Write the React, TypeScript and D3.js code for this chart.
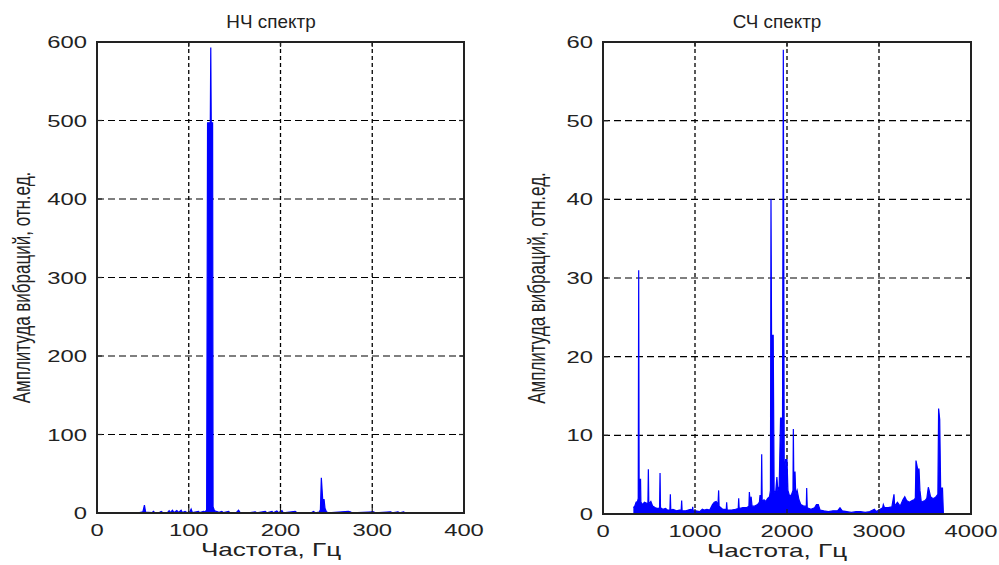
import * as d3 from "d3";

// НЧ спектр (0-400 Гц)
const lfFreq = [0, 45, 50, 51.7, 53, 56, 60, 61.5, 63, 68, 70, 72, 77, 78.6, 80, 82.2, 84, 87, 89, 91.7, 93, 96, 98, 101, 102.6, 104, 110.6, 112, 116, 118, 119.5, 120.5, 123.5, 124, 124.5, 126, 126.5, 128, 130, 133, 136, 138, 143.4, 145, 152, 154.3, 156, 165, 172.5, 174, 183.4, 185, 190.7, 192, 196, 198, 201.6, 203, 216, 218, 234, 236, 238, 242, 243.5, 244.5, 246, 247.5, 248.5, 250, 252, 274, 276, 278, 301.6, 303, 320, 322, 328, 330, 334, 336, 340];
const lfAmp = [0.3, 0.3, 1.5, 10, 1, 0.8, 0.5, 2, 0.3, 0.5, 2, 0.3, 0.8, 3, 0.5, 3.5, 0.5, 3, 0.6, 3.5, 0.6, 2, 0.5, 1, 5, 0.4, 2, 0.4, 2, 1.5, 4, 497, 497, 593, 497, 497, 8, 3, 2, 1, 2, 0.4, 2, 0.4, 0.6, 3.5, 0.4, 0.3, 1.5, 0.3, 2, 0.3, 2, 0.3, 2.5, 0.3, 3, 0.3, 2, 0.3, 0.5, 2, 0.3, 1, 4, 45, 17, 17, 6, 1.5, 0.3, 2, 1.5, 0.3, 1.5, 0.3, 1.5, 0.3, 1.5, 0.3, 1.5, 0.3, 0.3];

// СЧ спектр (0-4000 Гц)
const mfFreq = [330, 345, 360, 375, 383, 388, 393, 400, 408, 412, 430, 450, 470, 488, 493, 498, 520, 540, 570, 600, 615, 620, 625, 650, 680, 700, 727, 732, 737, 760, 800, 830, 850, 855, 860, 900, 950, 970, 975, 980, 1010, 1050, 1080, 1100, 1130, 1160, 1190, 1210, 1230, 1250, 1257, 1262, 1300, 1340, 1344, 1350, 1400, 1440, 1470, 1475, 1480, 1520, 1560, 1586, 1591, 1600, 1610, 1620, 1650, 1680, 1700, 1707, 1720, 1725, 1730, 1750, 1770, 1790, 1810, 1820, 1826, 1832, 1850, 1860, 1875, 1890, 1900, 1915, 1930, 1940, 1950, 1960, 1970, 1985, 2000, 2010, 2030, 2050, 2065, 2069, 2075, 2087, 2095, 2110, 2130, 2150, 2180, 2210, 2214, 2220, 2260, 2300, 2320, 2340, 2360, 2400, 2450, 2500, 2550, 2576, 2600, 2650, 2700, 2750, 2800, 2850, 2900, 2950, 2970, 3000, 3040, 3047, 3060, 3100, 3140, 3163, 3170, 3200, 3230, 3260, 3280, 3300, 3330, 3360, 3380, 3395, 3402, 3420, 3435, 3445, 3460, 3480, 3500, 3520, 3536, 3545, 3560, 3580, 3600, 3620, 3640, 3648, 3660, 3670, 3690, 3700];
const mfAmp = [0.8, 1, 1.5, 1.6, 2, 31, 2, 4.4, 4.4, 1.5, 1.2, 1.5, 1.4, 1.3, 5.7, 1.3, 1.6, 1, 0.8, 0.7, 0.8, 5.2, 0.8, 0.6, 0.7, 0.5, 0.5, 2.5, 0.5, 0.6, 0.4, 0.5, 0.5, 1.7, 0.4, 0.4, 0.6, 0.5, 0.9, 0.4, 0.4, 0.3, 0.6, 0.5, 0.6, 0.5, 1.2, 1.5, 1.6, 1.2, 3, 1, 0.6, 0.6, 1.5, 0.5, 0.5, 0.6, 0.7, 2, 0.7, 0.8, 0.8, 1, 2.8, 1.2, 2.2, 1, 1, 1.2, 1.5, 2.4, 1.6, 7.6, 1.6, 1.8, 1.6, 2, 2.2, 3, 40, 22.7, 22.7, 3, 2.5, 4.7, 3, 3.5, 12.2, 12.2, 5, 59, 5, 6.9, 6.9, 3, 2.2, 2.5, 3, 10.8, 3, 5.4, 2.5, 3, 1.8, 1.2, 1, 1, 3.3, 0.8, 0.6, 0.8, 1.2, 1.2, 0.5, 0.4, 0.3, 0.4, 0.4, 0.8, 0.4, 0.3, 0.2, 0.3, 0.3, 0.2, 0.3, 0.6, 0.3, 0.5, 0.8, 1.2, 0.8, 0.8, 0.9, 2.5, 1, 1.5, 1, 1.8, 2.2, 1.7, 1.5, 1.7, 1.8, 2, 6.8, 5.7, 5.7, 3, 1.5, 1.6, 1.7, 2, 3.4, 3, 2.2, 2, 2, 2.2, 2.5, 13.4, 12, 3.3, 3.3, 0];

const lfXTicks = [0, 100, 200, 300, 400];
const lfYTicks = [0, 100, 200, 300, 400, 500, 600];
const mfXTicks = [0, 1000, 2000, 3000, 4000];
const mfYTicks = [0, 10, 20, 30, 40, 50, 60];

const FONT = "'Liberation Sans', Arial, sans-serif";
const SX = 1.4;
const INK = "#222";

function Panel(props) {
  const { left, right, top, bottom, freq, amp, xTicks, yTicks, title, titleX, ylabelX } = props;
  const x = d3.scaleLinear().domain([xTicks[0], xTicks[xTicks.length - 1]]).range([left, right]);
  const y = d3.scaleLinear().domain([yTicks[0], yTicks[yTicks.length - 1]]).range([bottom, top]);
  const idx = d3.range(freq.length);

  const area = d3.area<number>()
    .x(i => x(freq[i]))
    .y0(y(0))
    .y1(i => y(amp[i]));
  const line = d3.line<number>()
    .x(i => x(freq[i]))
    .y(i => y(amp[i]));

  const innerX = xTicks.slice(1, -1);
  const innerY = yTicks.slice(1, -1);
  const labelY = (top + bottom) / 2 + 10;

  return (
    <g>
      {/* grid */}
      {innerX.map(t => (
        <line key={"gx" + t} x1={x(t)} x2={x(t)} y1={top} y2={bottom}
          stroke="#000" strokeWidth={1.3} strokeDasharray="4,3" />
      ))}
      {innerY.map(t => (
        <line key={"gy" + t} x1={left} x2={right} y1={y(t)} y2={y(t)}
          stroke="#000" strokeWidth={1.2} strokeDasharray="7,4" />
      ))}

      {/* spectrum */}
      <path d={area(idx)} fill="#0000ff" stroke="none" />
      <path d={line(idx)} fill="none" stroke="#0000ff" strokeWidth={1.2} />

      {/* ticks */}
      {xTicks.map(t => (
        <g key={"tx" + t}>
          <line x1={x(t)} x2={x(t)} y1={bottom} y2={bottom - 5} stroke={INK} strokeWidth={1.2} />
          <line x1={x(t)} x2={x(t)} y1={top} y2={top + 5} stroke={INK} strokeWidth={1.2} />
          <text transform={`translate(${x(t)},${bottom + 23}) scale(${SX},1)`} textAnchor="middle"
            fontFamily={FONT} fontSize={17} fill={INK}>{t}</text>
        </g>
      ))}
      {yTicks.map(t => (
        <g key={"ty" + t}>
          <line x1={left} x2={left + 5} y1={y(t)} y2={y(t)} stroke={INK} strokeWidth={1.2} />
          <line x1={right} x2={right - 5} y1={y(t)} y2={y(t)} stroke={INK} strokeWidth={1.2} />
          <text transform={`translate(${left - 10},${y(t) + 6}) scale(${SX},1)`} textAnchor="end"
            fontFamily={FONT} fontSize={17} fill={INK}>{t}</text>
        </g>
      ))}

      {/* frame */}
      <rect x={left} y={top} width={right - left} height={bottom - top}
        fill="none" stroke={INK} strokeWidth={2} />

      {/* labels */}
      <text transform={`translate(${titleX},${top - 14}) scale(1.05,1)`} textAnchor="middle"
        fontFamily={FONT} fontSize={18} fill={INK}>{title}</text>
      <text transform={`translate(${titleX},${bottom + 43}) scale(1.45,1)`} textAnchor="middle"
        fontFamily={FONT} fontSize={18} fill={INK}>Частота, Гц</text>
      <text transform={`translate(${ylabelX},${labelY}) scale(${SX},1) rotate(-90)`} textAnchor="middle"
        fontFamily={FONT} fontSize={17} fill={INK}>Амплитуда вибраций, отн.ед.</text>
    </g>
  );
}

export default function App() {
  return (
    <svg width={999} height={565} style={{ position: "absolute", left: 0, top: 0, background: "#fff" }}>
      <rect width={999} height={565} fill="#fff" />
      <Panel left={97} right={464} top={42} bottom={513}
        freq={lfFreq} amp={lfAmp} xTicks={lfXTicks} yTicks={lfYTicks}
        title="НЧ спектр" titleX={271} ylabelX={30} />
      <Panel left={603} right={971} top={42} bottom={514}
        freq={mfFreq} amp={mfAmp} xTicks={mfXTicks} yTicks={mfYTicks}
        title="СЧ спектр" titleX={777} ylabelX={545} />
    </svg>
  );
}
